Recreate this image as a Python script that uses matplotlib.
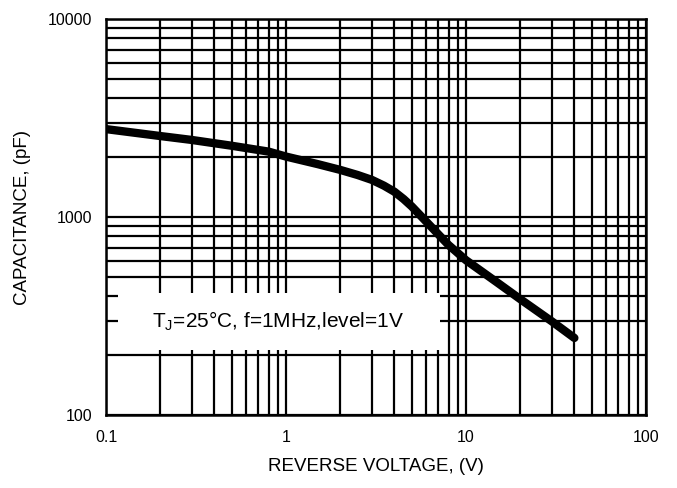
import matplotlib
matplotlib.use("Agg")
import matplotlib.pyplot as plt
from matplotlib.patches import Rectangle
from matplotlib.ticker import FixedLocator, NullFormatter

plt.rcParams['font.family'] = ['Liberation Sans', 'DejaVu Sans']
plt.rcParams['mathtext.fontset'] = 'custom'
plt.rcParams['mathtext.rm'] = 'Liberation Sans'

# capacitance curve
voltage = [0.1, 0.2, 0.3, 0.5, 0.8, 1, 1.5, 2, 2.5, 3, 3.5, 4, 4.5, 5, 6, 7, 8,
           9, 10, 15, 20, 30, 40]
capacitance = [2780, 2565, 2450, 2290, 2140, 2020, 1850, 1730, 1630, 1540, 1440,
               1342, 1233, 1130, 950, 820, 722, 658, 605, 465, 385, 297, 245]

x_ticks = [0.1, 1, 10, 100]
x_labels = ["0.1", "1", "10", "100"]
y_ticks = [100, 1000, 10000]
y_labels = ["100", "1000", "10000"]

note = r"T$_\mathregular{J}$=25°C, f=1MHz,level=1V"

fig = plt.figure(figsize=(6.77, 4.88), dpi=100)
ax = fig.add_axes([0.1566, 0.1496, 0.7976, 0.8114])
ax.set_xscale("log")
ax.set_yscale("log")
ax.set_xlim(0.1, 100)
ax.set_ylim(100, 10000)

# grid on every major and minor decade step
ax.xaxis.set_major_locator(FixedLocator(x_ticks))
ax.yaxis.set_major_locator(FixedLocator(y_ticks))
ax.xaxis.set_minor_locator(FixedLocator([m * 10.0 ** e for e in (-1, 0, 1) for m in range(2, 10)]))
ax.yaxis.set_minor_locator(FixedLocator([m * 10.0 ** e for e in (2, 3) for m in range(2, 10)]))
ax.xaxis.set_minor_formatter(NullFormatter())
ax.yaxis.set_minor_formatter(NullFormatter())
ax.set_xticklabels(x_labels)
ax.set_yticklabels(y_labels)
ax.set_axisbelow(True)
ax.grid(True, which="both", color="black", linewidth=1.6)
ax.tick_params(which="both", length=0)
ax.tick_params(axis="x", pad=11, labelsize=11.5)
ax.tick_params(axis="y", pad=10, labelsize=11.5)
for sp in ax.spines.values():
    sp.set_linewidth(1.8)

# white label box over the grid
ax.add_patch(Rectangle((0.1166, 213), 7.17 - 0.1166, 413 - 213,
                       facecolor="white", edgecolor="none", zorder=1))
ax.text(0.9, 298, note, ha="center", va="center", fontsize=15, zorder=3)

ax.plot(voltage, capacitance, color="black", linewidth=6,
        solid_capstyle="round", solid_joinstyle="round", zorder=2)

ax.set_xlabel("REVERSE VOLTAGE, (V)", fontsize=13.5, labelpad=9)
ax.set_ylabel("CAPACITANCE, (pF)", fontsize=13.5, labelpad=12)

fig.savefig("out.png", dpi=100)
plt.close(fig)
